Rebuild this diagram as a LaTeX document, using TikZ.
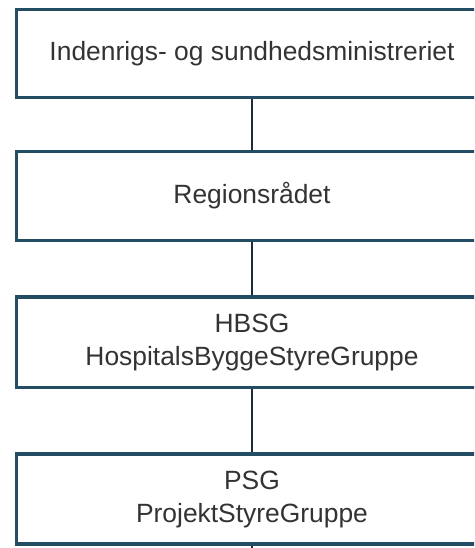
\documentclass[tikz,border=0pt]{standalone}
\usepackage{fontspec}
\setmainfont{Liberation Sans}
\definecolor{boxline}{HTML}{234D63}
\definecolor{connline}{HTML}{1F2A3A}
\definecolor{txt}{HTML}{333333}
\begin{document}
\begin{tikzpicture}[x=0.75pt,y=-0.75pt,
  orgbox/.style={draw=boxline, line width=2.6pt, fill=white, rectangle,
    minimum width=353.25pt, inner sep=0pt, align=center, text=txt,
    font=\fontsize{19.8}{24.5}\selectfont},
  conn/.style={draw=connline, line width=1.5pt}]
\clip (0,0) rectangle (474,548);
\fill[white] (0,0) rectangle (474,548);
\node[orgbox, minimum height=66.15pt] (b1) at (252,53.4) {Indenrigs- og sundhedsministreriet};
\node[orgbox, minimum height=66.75pt] (b2) at (252,196) {Regionsrådet};
\node[orgbox, minimum height=67.9pt] (b3) at (252,342.25) {HBSG\\HospitalsByggeStyreGruppe};
\node[orgbox, minimum height=67.5pt] (b4) at (252,499.2) {PSG\\ProjektStyreGruppe};
\coordinate (bend) at (252,550);
\draw[conn] (b1.south) -- (b2.north);
\draw[conn] (b2.south) -- (b3.north);
\draw[conn] (b3.south) -- (b4.north);
\draw[conn] (b4.south) -- (bend);
\end{tikzpicture}
\end{document}
